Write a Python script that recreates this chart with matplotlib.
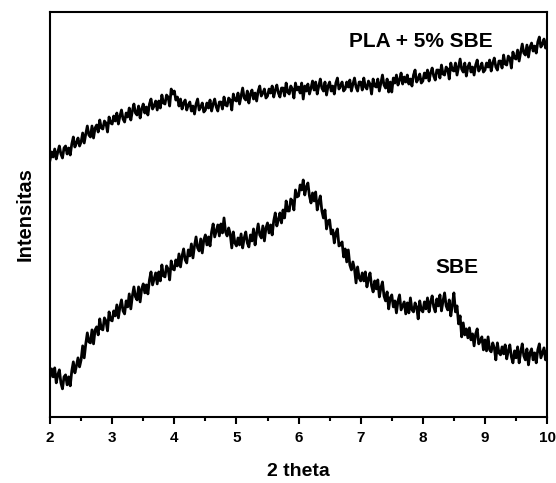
import numpy as np
import matplotlib.pyplot as plt
from matplotlib.ticker import MultipleLocator

plt.rcParams['font.family'] = ['Liberation Sans', 'DejaVu Sans']

# 2 theta grid, step 0.025
theta = np.arange(0, 321) * 0.025 + 2.0

# PLA + 5% SBE (arbitrary intensity)
pla_sbe = [257, 265, 260, 268, 258, 265, 271, 263, 259, 269,
           271, 263, 269, 262, 273, 280, 270, 274, 279, 271,
           275, 284, 274, 283, 291, 282, 280, 291, 279, 289,
           292, 285, 297, 289, 288, 296, 294, 285, 300, 294,
           293, 301, 296, 304, 293, 301, 307, 298, 295, 304,
           300, 309, 297, 306, 313, 304, 302, 311, 299, 308,
           313, 304, 310, 302, 313, 318, 308, 311, 316, 307,
           316, 309, 322, 314, 313, 322, 320, 311, 328, 323,
           326, 317, 320, 311, 318, 308, 314, 317, 307, 312,
           315, 306, 311, 303, 313, 318, 307, 310, 314, 305,
           307, 314, 309, 317, 306, 313, 318, 310, 306, 315,
           315, 308, 320, 312, 311, 319, 317, 307, 323, 317,
           316, 324, 313, 321, 329, 319, 317, 326, 314, 323,
           327, 318, 324, 316, 326, 331, 321, 324, 328, 319,
           321, 328, 324, 331, 320, 327, 332, 324, 320, 329,
           329, 321, 334, 325, 323, 331, 328, 319, 334, 327,
           330, 324, 334, 318, 331, 326, 333, 323, 329, 336,
           327, 335, 323, 331, 338, 329, 326, 335, 322, 331,
           335, 326, 331, 323, 334, 339, 328, 331, 335, 326,
           328, 335, 330, 337, 326, 333, 339, 330, 326, 335,
           335, 327, 339, 330, 328, 336, 333, 323, 338, 331,
           330, 338, 326, 334, 342, 332, 329, 338, 325, 335,
           325, 339, 334, 342, 332, 337, 344, 333, 340, 335,
           342, 333, 338, 331, 342, 347, 335, 338, 343, 334,
           336, 344, 339, 347, 336, 344, 349, 341, 337, 347,
           347, 339, 352, 343, 342, 350, 348, 338, 354, 347,
           346, 354, 342, 350, 358, 348, 345, 354, 341, 350,
           354, 345, 350, 342, 352, 357, 346, 349, 354, 345,
           347, 354, 350, 357, 346, 354, 359, 350, 347, 356,
           356, 349, 362, 353, 352, 361, 359, 349, 365, 359,
           358, 367, 356, 365, 373, 364, 362, 372, 360, 370,
           374, 366, 371, 364, 375, 380, 370, 373, 378, 369,
           376]

# SBE
sbe = [40, 48, 40, 49, 34, 42, 47, 34, 28, 40,
       42, 32, 40, 31, 46, 55, 44, 51, 59, 50,
       57, 71, 59, 73, 84, 75, 74, 87, 73, 87,
       90, 82, 98, 88, 87, 99, 96, 86, 105, 97,
       96, 106, 101, 112, 99, 110, 117, 106, 103, 116,
       110, 123, 108, 121, 130, 120, 117, 130, 115, 128,
       133, 124, 132, 123, 137, 145, 132, 138, 144, 133,
       145, 136, 152, 141, 140, 151, 148, 137, 156, 148,
       147, 157, 151, 163, 150, 161, 168, 157, 154, 167,
       161, 173, 159, 171, 180, 169, 166, 178, 164, 177,
       182, 172, 180, 171, 185, 193, 180, 186, 192, 181,
       193, 184, 199, 185, 181, 189, 183, 169, 185, 174,
       171, 179, 172, 183, 169, 179, 185, 174, 170, 182,
       176, 188, 172, 184, 193, 182, 179, 191, 176, 189,
       194, 184, 192, 182, 196, 204, 191, 197, 204, 194,
       207, 199, 216, 206, 206, 218, 216, 207, 227, 220,
       221, 232, 227, 237, 222, 230, 234, 221, 214, 224,
       216, 225, 207, 215, 221, 206, 199, 207, 188, 196,
       197, 183, 187, 174, 184, 188, 171, 172, 175, 160,
       168, 155, 167, 152, 147, 155, 148, 134, 150, 139,
       136, 144, 136, 145, 130, 138, 144, 131, 125, 136,
       128, 137, 120, 129, 135, 121, 116, 125, 108, 119,
       122, 110, 116, 104, 116, 122, 107, 111, 115, 103,
       114, 104, 119, 107, 105, 114, 110, 98, 116, 107,
       105, 115, 108, 119, 105, 115, 121, 110, 105, 118,
       111, 122, 106, 116, 124, 111, 107, 117, 101, 112,
       124, 105, 111, 93, 101, 80, 94, 82, 88, 79,
       89, 77, 83, 71, 83, 88, 73, 76, 80, 67,
       77, 66, 80, 67, 65, 74, 69, 57, 74, 64,
       62, 70, 63, 72, 58, 66, 72, 60, 54, 66,
       59, 70, 54, 65, 73, 61, 57, 68, 52, 64,
       68, 57, 64, 54, 67, 73, 59, 64, 69, 57,
       66]

fig = plt.figure(figsize=(5.56, 4.83), dpi=100)
ax = fig.add_axes([0.090, 0.137, 0.894, 0.838])

ax.plot(theta, pla_sbe, color='black', lw=2.0)
ax.plot(theta, sbe, color='black', lw=2.0)

ax.text(7.96, 376, 'PLA + 5% SBE', fontsize=15, fontweight='bold', ha='center', va='center')
ax.text(8.55, 149, 'SBE', fontsize=15, fontweight='bold', ha='center', va='center')

ax.set_xlim(2, 10)
ax.set_ylim(0, 405)
ax.set_yticks([])
ax.xaxis.set_major_locator(MultipleLocator(1))
ax.xaxis.set_minor_locator(MultipleLocator(0.5))
ax.tick_params(axis='x', which='major', length=5, width=1.5, direction='out', labelsize=11, pad=5)
ax.tick_params(axis='x', which='minor', length=3, width=1.5, direction='out')
for lab in ax.get_xticklabels():
    lab.set_fontweight('bold')
for s in ax.spines.values():
    s.set_linewidth(1.5)

ax.set_xlabel('2 theta', fontsize=14, fontweight='bold', labelpad=13)
ax.set_ylabel('Intensitas', fontsize=14.5, fontweight='bold', labelpad=11)

fig.savefig('out.png', dpi=100)
